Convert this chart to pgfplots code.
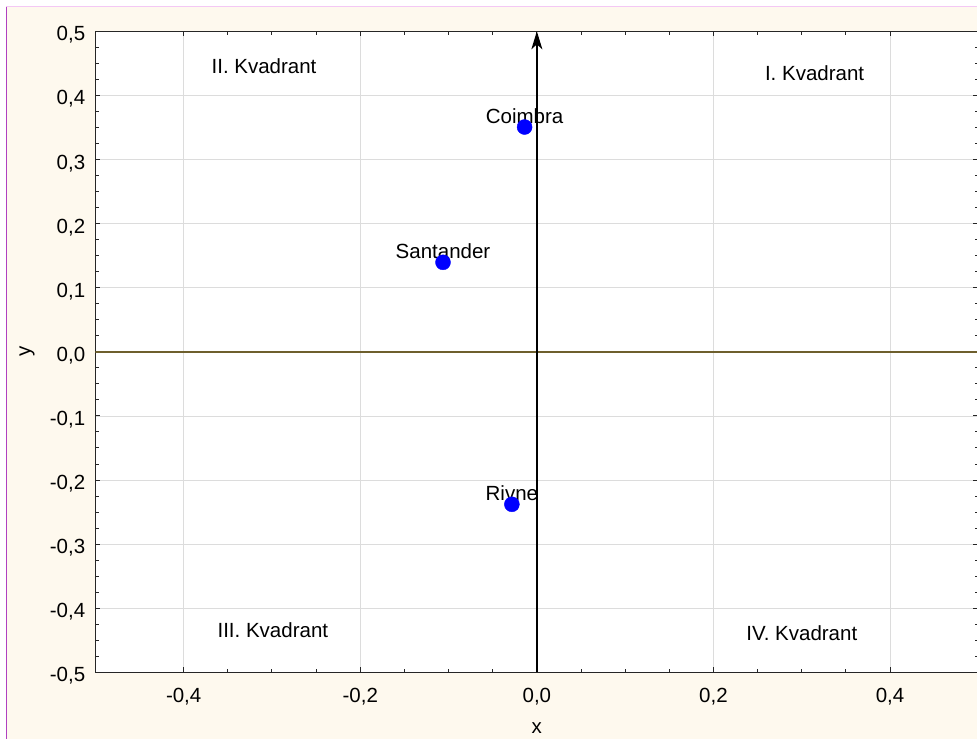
\documentclass[border=0pt]{standalone}
\usepackage{pgfplots}
\pgfplotsset{compat=1.18}
\usepackage{fontspec}
\setmainfont{Liberation Sans}
\usetikzlibrary{arrows.meta}
\definecolor{cream}{RGB}{254,249,238}
\definecolor{magline}{RGB}{176,64,192}
\definecolor{pinkline}{RGB}{244,200,244}
\definecolor{gridgray}{RGB}{220,220,220}
\definecolor{zeroline}{RGB}{110,95,45}
\pgfplotstableread[row sep=\\]{
x y label\\
-0.0139 0.3507 Coimbra\\
-0.1063 0.1396 Santander\\
-0.0283 -0.2379 Rivne\\
}\pts
\begin{document}
\begin{tikzpicture}[x=1bp,y=1bp,font=\fontsize{20.5bp}{24bp}\selectfont]
\fill[white] (0,0) rectangle (977,739);
\fill[cream] (6,0) rectangle (977,732);
\draw[magline, line width=1.3bp] (6.6,0) -- (6.6,732);
\draw[pinkline, line width=1bp] (6,732.5) -- (977,732.5);
\begin{axis}[
  at={(108,104)}, anchor=south west,
  scale only axis, width=883bp, height=641bp,
  xmin=-0.5, xmax=0.5, ymin=-0.5, ymax=0.5,
  xtick={-0.4,-0.2,0,0.2,0.4},
  ytick={-0.5,-0.4,-0.3,-0.2,-0.1,0,0.1,0.2,0.3,0.4,0.5},
  minor x tick num=3, minor y tick num=3,
  grid=major, grid style={draw=gridgray, line width=0.8bp},
  axis line style={line width=1.2bp, black!85},
  major tick length=5bp, minor tick length=3.5bp,
  tick style={black!85, line width=1bp},
  axis background/.style={fill=white},
  /pgf/number format/fixed,
  /pgf/number format/fixed zerofill,
  /pgf/number format/precision=1,
  /pgf/number format/use comma,
  /pgf/number format/assume math mode=true,
  xticklabel style={anchor=base, inner sep=0pt, yshift=-30bp},
  yticklabel style={anchor=base east, inner sep=0pt, xshift=-10bp, yshift=-9.5bp},
  xlabel={x}, ylabel={y},
  xlabel style={at={(axis description cs:0.5,-0.0960)}, anchor=base, inner sep=0pt},
  ylabel style={at={(axis description cs:-0.0736,0.5)}, anchor=base, inner sep=0pt},
]
\addplot[zeroline, line width=1.5bp, forget plot] coordinates {(-0.5,0) (0.5,0)};
\addplot[black, line width=1.3bp, -{Stealth[length=18bp, width=11bp, inset=5bp]}, forget plot] coordinates {(0,-0.5) (0,0.5)};
\node[anchor=base] at (axis cs:-0.309,0.434) {II. Kvadrant};
\node[anchor=base] at (axis cs:0.3145,0.4236) {I. Kvadrant};
\node[anchor=base] at (axis cs:-0.299,-0.445) {III. Kvadrant};
\node[anchor=base] at (axis cs:0.300,-0.450) {IV. Kvadrant};
\addplot[draw=none, mark=none, nodes near coords, point meta=explicit symbolic,
  nodes near coords style={anchor=base, inner sep=0pt, yshift=4bp, text=black}]
  table[x=x, y=y, meta=label] {\pts};
\addplot[only marks, mark=*, mark size=7.5bp, mark options={draw=blue, fill=blue}]
  table[x=x, y=y] {\pts};
\end{axis}
\pgfresetboundingbox
\useasboundingbox (0,0) rectangle (977,739);
\end{tikzpicture}
\end{document}
